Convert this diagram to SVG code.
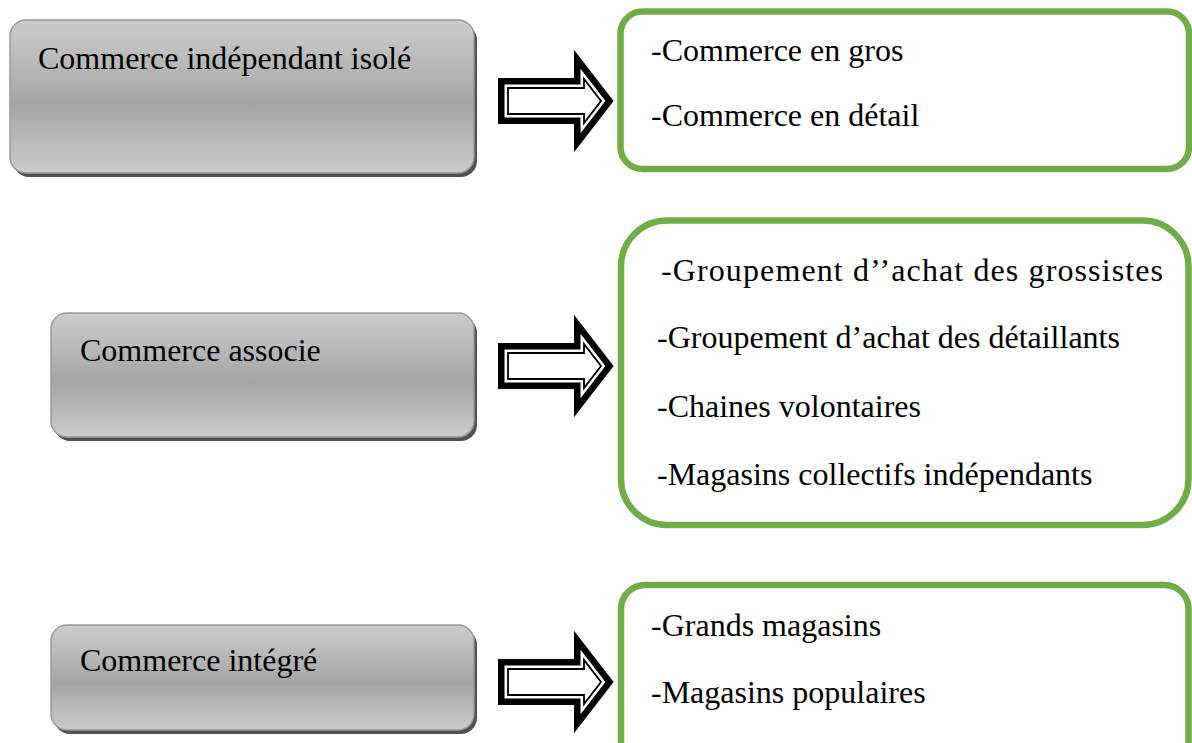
<svg xmlns="http://www.w3.org/2000/svg" width="1192" height="743" viewBox="0 0 1192 743">
<style>
  .t { font-family: "Liberation Serif", "Times New Roman", serif; font-size: 32px; fill: #000; }
  .gbox { fill: url(#gray); stroke: #999; stroke-width: 1.5; }
  .shadow { fill: #525252; }
  .green { fill: #fff; stroke: #70ad47; stroke-width: 6.5; }
  .ao { fill: #000; stroke: #000; stroke-width: 20; stroke-linejoin: miter; stroke-miterlimit: 10; }
  .aw { fill: #fff; stroke: #fff; stroke-width: 7; stroke-linejoin: miter; stroke-miterlimit: 10; }
  .al { fill: none; stroke: #000; stroke-width: 1.8; stroke-linejoin: miter; stroke-miterlimit: 10; }
</style>
<defs>
  <linearGradient id="gray" x1="0" y1="0" x2="0" y2="1">
    <stop offset="0" stop-color="#cdcdcd"/>
    <stop offset="0.55" stop-color="#a5a5a5"/>
    <stop offset="1" stop-color="#cbcbcb"/>
  </linearGradient>
  <path id="arrow" d="M508,-13 H584 V-22 L601,0 L584,22 V13 H508 Z"/>
</defs>
<rect width="1192" height="743" fill="#fff"/>

<g id="connectors">
  <g transform="translate(0,101)">
    <use href="#arrow" class="ao"/><use href="#arrow" class="aw"/><use href="#arrow" class="al"/>
  </g>
  <g transform="translate(0,366)">
    <use href="#arrow" class="ao"/><use href="#arrow" class="aw"/><use href="#arrow" class="al"/>
  </g>
  <g transform="translate(0,682)">
    <use href="#arrow" class="ao"/><use href="#arrow" class="aw"/><use href="#arrow" class="al"/>
  </g>
</g>

<g id="node-isole">
  <rect class="shadow" x="13" y="24" width="464" height="153" rx="16"/>
  <rect class="gbox" x="10" y="20" width="464" height="153" rx="16"/>
  <text class="t" x="38" y="69">Commerce indépendant isolé</text>
</g>
<g id="node-associe">
  <rect class="shadow" x="54" y="317" width="423" height="124" rx="16"/>
  <rect class="gbox" x="51" y="313" width="423" height="124" rx="16"/>
  <text class="t" x="80" y="361">Commerce associe</text>
</g>
<g id="node-integre">
  <rect class="shadow" x="54" y="629" width="423" height="105" rx="16"/>
  <rect class="gbox" x="51" y="625" width="423" height="105" rx="16"/>
  <text class="t" x="80" y="671">Commerce intégré</text>
</g>

<g id="list-isole">
  <rect class="green" x="620.5" y="11.5" width="568.5" height="157.5" rx="22"/>
  <text class="t" x="651" y="61">-Commerce en gros</text>
  <text class="t" x="651" y="126">-Commerce en détail</text>
</g>
<g id="list-associe">
  <rect class="green" x="621" y="220.5" width="567.5" height="304.5" rx="46"/>
  <text class="t" x="661" y="281" textLength="502">-Groupement d’’achat des grossistes</text>
  <text class="t" x="657" y="348">-Groupement d’achat des détaillants</text>
  <text class="t" x="657" y="417">-Chaines volontaires</text>
  <text class="t" x="657" y="485">-Magasins collectifs indépendants</text>
</g>
<g id="list-integre">
  <rect class="green" x="621" y="585" width="567.5" height="200" rx="24"/>
  <text class="t" x="651" y="636">-Grands magasins</text>
  <text class="t" x="651" y="703">-Magasins populaires</text>
</g>
</svg>
